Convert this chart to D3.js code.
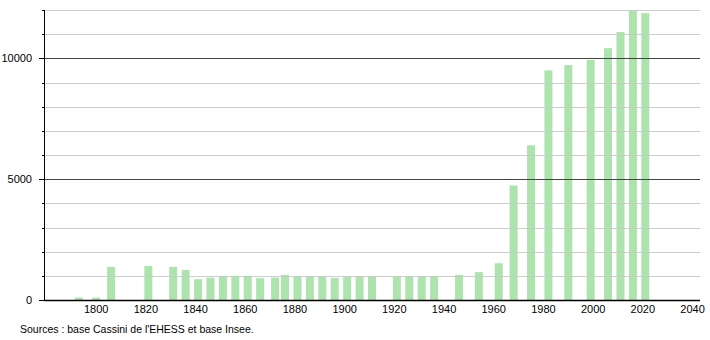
<!DOCTYPE html>
<html>
<head>
<meta charset="utf-8">
<script src="https://cdn.jsdelivr.net/npm/d3@7"></script>
<style>
  body { margin: 0; background: #fff; }
  text { font-family: "Liberation Sans", Arial, sans-serif; }
</style>
</head>
<body>
<div id="chart"></div>
<script>
// Population data
var years = [1793, 1800, 1806, 1821, 1831, 1836, 1841, 1846, 1851, 1856, 1861, 1866, 1872, 1876,
  1881, 1886, 1891, 1896, 1901, 1906, 1911, 1921, 1926, 1931, 1936, 1946, 1954, 1962, 1968,
  1975, 1982, 1990, 1999, 2006, 2011, 2016, 2021];
var population = [100, 100, 1370, 1410, 1370, 1245, 860, 925, 1000, 1000, 1000, 900, 925, 1040,
  980, 980, 980, 910, 980, 980, 980, 980, 980, 980, 990, 1040, 1150, 1520, 4740,
  6400, 9500, 9720, 9930, 10420, 11090, 12000, 11870];
var xTicks = [1800, 1820, 1840, 1860, 1880, 1900, 1920, 1940, 1960, 1980, 2000, 2020, 2040];
var yLabels = [0, 5000, 10000];
var sourceText = "Sources : base Cassini de l'EHESS et base Insee.";

var totwidth = 710,
    totheight = 340,
    plotLeft = 44,
    plotRight = 700,
    plotTop = 10,
    plotBottom = 300,
    barWidth = 8;

var svg = d3.select("#chart").append("svg")
    .attr("width", totwidth)
    .attr("height", totheight);

var x = d3.scaleLinear().domain([1779, 2043]).range([plotLeft, plotRight]);
var y = d3.scaleLinear().domain([0, 12000]).range([plotBottom, plotTop]);

var data = years.map(function(d, i) { return {year: d, pop: population[i]}; });

// Bars
svg.append("g")
  .selectAll("rect")
  .data(data)
  .enter().append("rect")
    .attr("x", function(d) { return x(d.year) - barWidth / 2; })
    .attr("y", function(d) { return y(d.pop); })
    .attr("width", barWidth)
    .attr("height", function(d) { return y(0) - y(d.pop); })
    .attr("fill", "#ade3ad");

// Grid lines every 1000, darker every 5000
var grid = d3.range(1000, 12001, 1000);
svg.append("g")
  .selectAll("line")
  .data(grid)
  .enter().append("line")
    .attr("x1", plotLeft)
    .attr("x2", plotRight)
    .attr("y1", function(d) { return Math.round(y(d)) + 0.5; })
    .attr("y2", function(d) { return Math.round(y(d)) + 0.5; })
    .attr("stroke", function(d) { return d % 5000 === 0 ? "#444" : "#c8c8c8"; })
    .attr("stroke-opacity", function(d) { return d % 5000 === 0 ? 1 : 0.9; })
    .attr("stroke-width", 1);

// Y axis
var yAxis = svg.append("g")
  .attr("transform", "translate(" + plotLeft + ",0)");
yAxis.append("line")
  .attr("x1", 0.5).attr("x2", 0.5)
  .attr("y1", plotTop).attr("y2", plotBottom)
  .attr("stroke", "#000");
yAxis.selectAll(".tick")
  .data(d3.range(0, 12001, 1000))
  .enter().append("line")
    .attr("x1", function(d) { return d % 5000 === 0 ? -5 : -2; })
    .attr("x2", 0)
    .attr("y1", function(d) { return Math.round(y(d)) + 0.5; })
    .attr("y2", function(d) { return Math.round(y(d)) + 0.5; })
    .attr("stroke", "#000");
yAxis.selectAll("text")
  .data(yLabels)
  .enter().append("text")
    .attr("x", -12)
    .attr("y", function(d) { return y(d) + 4; })
    .attr("text-anchor", "end")
    .attr("font-size", 11)
    .attr("fill", "#000")
    .text(function(d) { return d; });

// X axis
svg.append("line")
  .attr("x1", plotLeft).attr("x2", plotRight)
  .attr("y1", plotBottom + 0.5).attr("y2", plotBottom + 0.5)
  .attr("stroke", "#000")
  .attr("stroke-width", 1.5);
svg.append("g")
  .selectAll("text")
  .data(xTicks)
  .enter().append("text")
    .attr("x", function(d) { return x(d); })
    .attr("y", 313)
    .attr("text-anchor", "middle")
    .attr("font-size", 11)
    .attr("fill", "#000")
    .text(function(d) { return d; });

// Source
svg.append("text")
  .attr("x", 20)
  .attr("y", 333)
  .attr("font-size", 10.5)
  .attr("fill", "#000")
  .text(sourceText);
</script>
</body>
</html>
